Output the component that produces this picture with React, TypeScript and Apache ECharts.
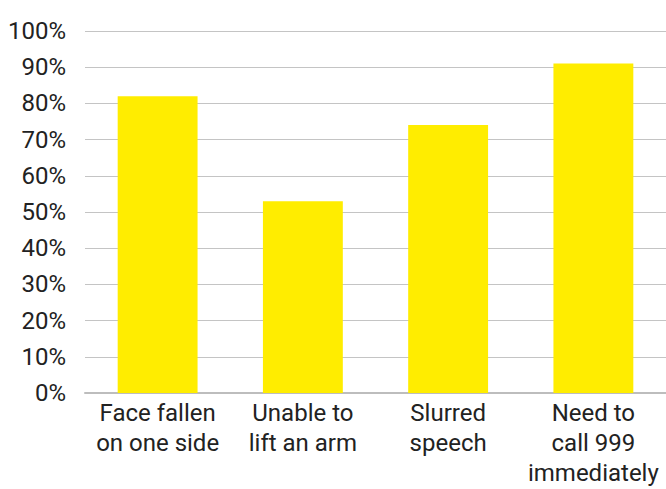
import React, { useEffect, useRef } from "react";
import * as echarts from "echarts";

const categories = [
  "Face fallen\non one side",
  "Unable to\nlift an arm",
  "Slurred\nspeech",
  "Need to\ncall 999\nimmediately",
];
const values = [82, 53, 74, 91];
const yTicks = { min: 0, max: 100, interval: 10 };

export default function App() {
  const ref = useRef<HTMLDivElement>(null);
  useEffect(() => {
    if (!ref.current) return;
    const chart = echarts.init(ref.current, undefined, { renderer: "svg" });
    chart.setOption({
      animation: false,
      textStyle: { fontFamily: "Roboto" },
      grid: { left: 85, top: 31, bottom: 96, width: 584 },
      xAxis: {
        type: "category",
        data: categories,
        axisTick: { show: false },
        axisLine: { lineStyle: { color: "#bdbdbd", width: 2 } },
        axisLabel: {
          color: "#222222",
          fontSize: 24,
          lineHeight: 30,
          margin: 5,
          fontFamily: "Roboto",
          interval: 0,
        },
      },
      yAxis: {
        type: "value",
        min: yTicks.min,
        max: yTicks.max,
        interval: yTicks.interval,
        axisLine: { show: false },
        axisTick: { show: false },
        splitLine: { lineStyle: { color: "#c4c4c4", width: 1 } },
        axisLabel: {
          color: "#222222",
          fontSize: 24,
          margin: 19,
          fontFamily: "Roboto",
          formatter: "{value}%",
          padding: [0, 0, 5, 0],
        },
      },
      series: [
        {
          type: "bar",
          data: values,
          barWidth: "55%",
          itemStyle: { color: "#ffed00" },
        },
      ],
    });
    return () => chart.dispose();
  }, []);
  return <div ref={ref} style={{ width: 666, height: 489, position: "absolute", left: 0, top: 0 }} />;
}
